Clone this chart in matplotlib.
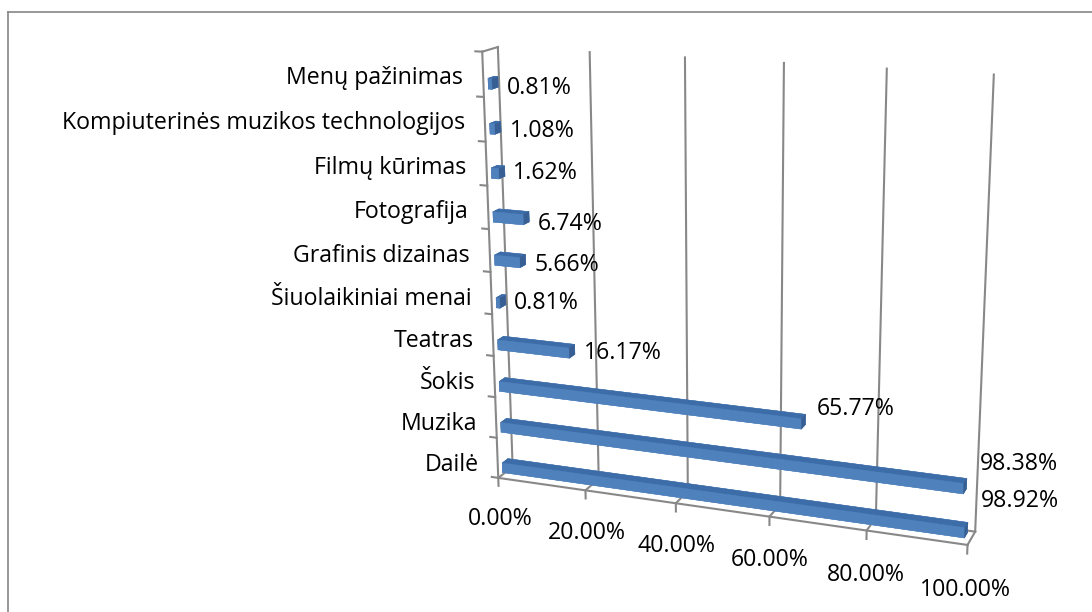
import matplotlib.pyplot as plt
import numpy as np
from mpl_toolkits.mplot3d import proj3d

# categories from bottom (Dailė) to top
categories = ['Dailė', 'Muzika', 'Šokis', 'Teatras', 'Šiuolaikiniai menai',
              'Grafinis dizainas', 'Fotografija', 'Filmų kūrimas',
              'Kompiuterinės muzikos technologijos', 'Menų pažinimas']
values = [98.92, 98.38, 65.77, 16.17, 0.81, 5.66, 6.74, 1.62, 1.08, 0.81]
ticks = [0, 20, 40, 60, 80, 100]
tick_labels = ['0.00%', '20.00%', '40.00%', '60.00%', '80.00%', '100.00%']

# small vertical nudges of the value labels (category units)
label_lift = [0.72, 0.55, 0.33, 0.0, 0.0, -0.07, -0.1, 0.0, -0.05, -0.1]

plt.rcParams['font.family'] = ['Open Sans', 'DejaVu Sans']

fig = plt.figure(figsize=(10.92, 6.12), dpi=100)
ax = fig.add_axes([0.3525, -0.0359, 0.6117, 1.0915], projection='3d',
                  computed_zorder=False)
ax.set_proj_type('persp', focal_length=0.5)
ax.view_init(elev=16, azim=-70)
ax.set_box_aspect((1, 0.067, 0.895))
ax.set_xlim(0, 100)
ax.set_ylim(0, 1)
ax.set_zlim(0, 10)
ax.set_axis_off()
ax.patch.set_alpha(0)

n = len(categories)
grid = '#888888'

# back wall gridlines and floor lines with ticks
for t in ticks:
    ax.plot([t, t], [1, 1], [0, n], color=grid, lw=1.5, zorder=1)
    ax.plot([t, t], [1, 0], [0, 0], color=grid, lw=1.5, zorder=1)
    ax.plot([t, t], [0, 0], [0, -0.2], color=grid, lw=1.5, zorder=1)
ax.plot([0, 100], [0, 0], [0, 0], color=grid, lw=1.5, zorder=1)
ax.plot([0, 100], [1, 1], [0, 0], color=grid, lw=1.5, zorder=1)

# left wall
ax.plot([0, 0], [0, 0], [0, n], color=grid, lw=1.5, zorder=1)
ax.plot([0, 0], [0, 1], [n, n], color=grid, lw=1.5, zorder=1)
for k in range(n + 1):
    ax.plot([0, -1.5], [0, 0], [k, k], color=grid, lw=1.5, zorder=1)

# bars: faces -z, +z, -y, +y, -x, +x
front, top, end = '#4F81BD', '#3D6DA8', '#385F93'
face_colors = [front, top, front, front, end, end] * n
zc = np.arange(n) * 1.01 + 0.17
bar_h = 0.24
ax.bar3d(np.zeros(n), np.full(n, 0.3), zc - bar_h / 2, values,
         np.full(n, 0.4), np.full(n, bar_h), color=face_colors,
         edgecolor=face_colors, linewidth=0.3, shade=False, zorder=2)

# texts placed at projected 3D positions
M = ax.get_proj()


def at(x, y, z):
    px, py, _ = proj3d.proj_transform(x, y, z, M)
    return px, py


fs = 16.7
cat_z = np.linspace(0.25, 9.4, n)
for i, (cat, v) in enumerate(zip(categories, values)):
    ax.text2D(*at(-4.5, 0, cat_z[i]), cat, ha='right', va='center',
              fontsize=fs, transform=ax.transData)
    ax.text2D(*at(v + 2.6, 0.5, zc[i] + label_lift[i]), f'{v:.2f}%',
              ha='left', va='center', fontsize=fs, transform=ax.transData)

for t, lab in zip(ticks, tick_labels):
    ax.text2D(*at(t, 0, -1.05), lab, ha='center', va='center', fontsize=fs,
              transform=ax.transData)

# chart area frame
fig.add_artist(plt.Line2D([8 / 1092, 8 / 1092], [0, 1 - 12 / 612],
                          color='#868686', lw=1.2))
fig.add_artist(plt.Line2D([8 / 1092, 1], [1 - 12 / 612, 1 - 12 / 612],
                          color='#868686', lw=1.2))

fig.savefig('out.png', dpi=100)
